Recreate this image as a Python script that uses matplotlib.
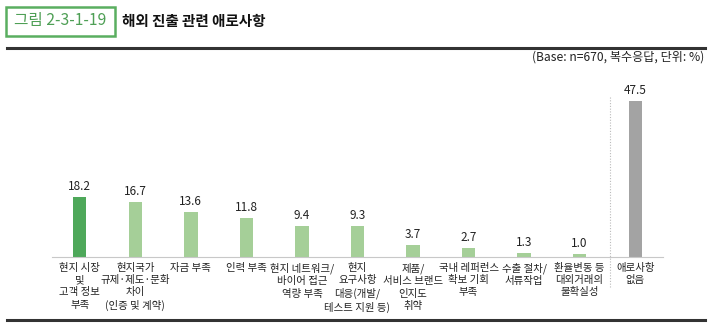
import matplotlib.pyplot as plt
from matplotlib.patches import Rectangle
from matplotlib.lines import Line2D

plt.rcParams['font.family'] = ['Noto Sans CJK KR', 'DejaVu Sans']

categories = [
    "현지 시장\n및\n고객 정보\n부족",
    "현지국가\n규제·제도·문화\n차이\n(인증 및 계약)",
    "자금 부족",
    "인력 부족",
    "현지 네트워크/\n바이어 접근\n역량 부족",
    "현지\n요구사항\n대응(개발/\n테스트 지원 등)",
    "제품/\n서비스 브랜드\n인지도\n취약",
    "국내 레퍼런스\n확보 기회\n부족",
    "수출 절차/\n서류작업",
    "환율변동 등\n대외거래의\n불확실성",
    "애로사항\n없음",
]
values = [18.2, 16.7, 13.6, 11.8, 9.4, 9.3, 3.7, 2.7, 1.3, 1.0, 47.5]
colors = ["#4ea85a"] + ["#a5cf98"] * 9 + ["#a3a3a3"]

W, H = 715, 328
fig = plt.figure(figsize=(W / 100, H / 100), dpi=100)

# plot area in pixel terms: baseline at y=257, x from 52 to 663
ax = fig.add_axes([52 / W, (H - 257) / H, (663 - 52) / W, (257 - 90) / H])
x = list(range(len(values)))
ax.bar(x, values, width=0.24, color=colors, zorder=2)
for xi, v in zip(x, values):
    ax.text(xi, v + 1.2, f"{v:.1f}", ha="center", va="bottom", fontsize=8.5,
            color="#222222")
ax.set_xlim(-0.5, 10.5)
ax.set_ylim(0, 50.8)
ax.set_xticks(x)
ax.set_xticklabels(categories, fontsize=7.5, color="#222222", linespacing=1.3)
ax.tick_params(axis="x", length=0, pad=4)
ax.set_yticks([])
for s in ["top", "right", "left"]:
    ax.spines[s].set_visible(False)
ax.spines["bottom"].set_color("#c8c8c8")
ax.spines["bottom"].set_linewidth(0.8)

# dotted separator before the last bar
fig.add_artist(Line2D([610 / W, 610 / W], [(H - 97) / H, (H - 288) / H],
                      color="#bbbbbb", lw=0.8, ls=(0, (1, 1.5))))

# header
fig.add_artist(Rectangle((6 / W, (H - 36) / H), 109 / W, 29 / H,
                         fill=False, edgecolor="#5aae60", lw=1.8))
fig.text(60 / W, (H - 21) / H, "그림 2-3-1-19", ha="center", va="center",
         fontsize=11.3, color="#4e9f55")
fig.text(122 / W, (H - 21) / H, "해외 진출 관련 애로사항", ha="left",
         va="center", fontsize=10.5, fontweight="bold", color="#111111")
fig.add_artist(Line2D([7 / W, 705 / W], [(H - 48) / H] * 2,
                      color="#333333", lw=2.2))
fig.text(704 / W, (H - 57) / H, "(Base: n=670, 복수응답, 단위: %)",
         ha="right", va="center", fontsize=8.7, color="#222222")
fig.add_artist(Line2D([7 / W, 705 / W], [(H - 320) / H] * 2,
                      color="#333333", lw=2.2))

fig.savefig("out.png", dpi=100)
